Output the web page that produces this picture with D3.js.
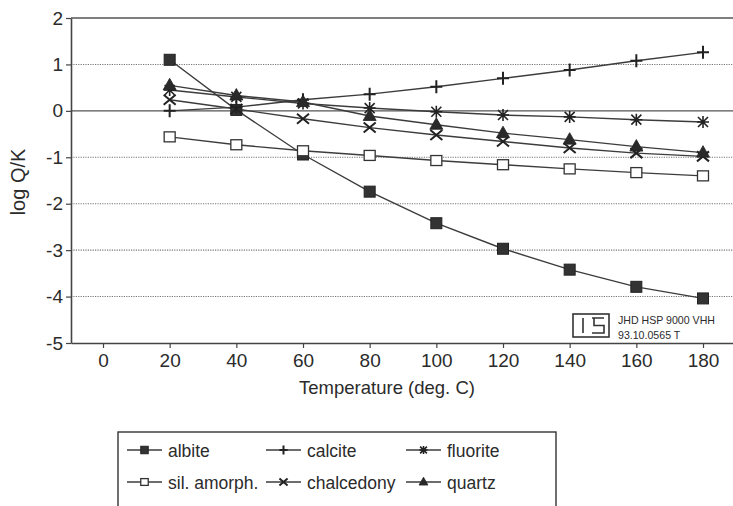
<!DOCTYPE html>
<html>
<head>
<meta charset="utf-8">
<script src="https://cdn.jsdelivr.net/npm/d3@7/dist/d3.min.js"></script>
<style>
  html, body { margin: 0; padding: 0; background: #fff; }
  svg { display: block; font-family: "Liberation Sans", Arial, sans-serif; }
</style>
</head>
<body>
<svg id="chart" width="733" height="506"></svg>
<script>
// Saturation indices (log Q/K) against temperature
const temperatures = [20, 40, 60, 80, 100, 120, 140, 160, 180];
const albite      = [1.10, 0.02, -0.94, -1.74, -2.42, -2.97, -3.42, -3.79, -4.04];
const calcite     = [0.00, 0.08, 0.24, 0.36, 0.52, 0.70, 0.88, 1.08, 1.26];
const fluorite    = [0.45, 0.30, 0.16, 0.06, -0.02, -0.09, -0.13, -0.19, -0.24];
const silAmorph   = [-0.56, -0.73, -0.86, -0.96, -1.07, -1.16, -1.25, -1.33, -1.40];
const chalcedony  = [0.24, 0.04, -0.17, -0.36, -0.52, -0.66, -0.80, -0.91, -0.98];
const quartz      = [0.55, 0.33, 0.19, -0.11, -0.30, -0.48, -0.62, -0.77, -0.90];

const seriesNames = ["albite", "calcite", "fluorite", "sil. amorph.", "chalcedony", "quartz"];
const seriesValues = [albite, calcite, fluorite, silAmorph, chalcedony, quartz];
const seriesMarkers = ["filledSquare", "plus", "asterisk", "openSquare", "cross", "triangle"];

const yTicks = [-5, -4, -3, -2, -1, 0, 1, 2];
const xTicks = [0, 20, 40, 60, 80, 100, 120, 140, 160, 180];
const yGrid = [-4, -3, -2, -1, 1];

const xTitle = "Temperature (deg. C)";
const yTitle = "log Q/K";
const stampLines = ["JHD HSP 9000 VHH", "93.10.0565 T"];

const ink = "#2b2b2b";
const lineInk = "#3c3c3c";

const svg = d3.select("#chart");

const x = d3.scaleLinear().domain([-9.6, 189]).range([71, 733]);
const y = d3.scaleLinear().domain([-5, 2]).range([343, 18]);

// dotted gridlines
svg.append("g").selectAll("line").data(yGrid).join("line")
  .attr("x1", x(-9.6)).attr("x2", x(189))
  .attr("y1", d => y(d)).attr("y2", d => y(d))
  .attr("stroke", "#777").attr("stroke-width", 1.1)
  .attr("stroke-dasharray", "1.2,1.2");

// solid zero line and top frame line
svg.append("line")
  .attr("x1", x(-9.6)).attr("x2", x(189))
  .attr("y1", y(0)).attr("y2", y(0))
  .attr("stroke", "#555").attr("stroke-width", 1.3);
svg.append("line")
  .attr("x1", x(-9.6)).attr("x2", x(189))
  .attr("y1", y(2)).attr("y2", y(2))
  .attr("stroke", "#555").attr("stroke-width", 1.6);

// axes
const yAxis = svg.append("g").attr("transform", `translate(${x(-9.6)},0)`)
  .call(d3.axisLeft(y).tickValues(yTicks).tickFormat(d3.format("d")).tickSize(5).tickPadding(3).tickSizeOuter(0));
const xAxis = svg.append("g").attr("transform", `translate(0,${y(-5)})`)
  .call(d3.axisBottom(x).tickValues(xTicks).tickFormat(d3.format("d")).tickSize(5).tickPadding(6).tickSizeOuter(0));
[yAxis, xAxis].forEach(a => {
  a.select(".domain").attr("stroke", "#444").attr("stroke-width", 1.6);
  a.selectAll(".tick line").attr("stroke", "#444").attr("stroke-width", 1.2);
  a.selectAll(".tick text").attr("fill", ink).attr("font-size", 19)
    .attr("font-family", "Liberation Sans, Arial, sans-serif");
});
yAxis.selectAll(".tick text").text(d => d < 0 ? "-" + Math.abs(d) : d);

// axis titles
svg.append("text").attr("x", 387).attr("y", 394).attr("text-anchor", "middle")
  .attr("font-size", 18.5).attr("fill", ink).text(xTitle);
svg.append("text").attr("transform", "translate(25,182) rotate(-90)")
  .attr("text-anchor", "middle").attr("font-size", 20).attr("fill", ink).text(yTitle);

// marker drawing
function drawMarker(g, type, cx, cy, scale = 1) {
  const s = scale;
  if (type === "filledSquare") {
    g.append("rect").attr("x", cx - 5.5 * s).attr("y", cy - 5.5 * s)
      .attr("width", 11 * s).attr("height", 11 * s)
      .attr("fill", "#333").attr("stroke", "#222").attr("stroke-width", 1);
  } else if (type === "openSquare") {
    g.append("rect").attr("x", cx - 5.5 * s).attr("y", cy - 5 * s)
      .attr("width", 11 * s).attr("height", 10 * s)
      .attr("fill", "#fff").attr("stroke", "#333").attr("stroke-width", 1.3);
  } else if (type === "plus") {
    g.append("path")
      .attr("d", `M${cx - 6 * s},${cy}H${cx + 6 * s}M${cx},${cy - 6.5 * s}V${cy + 6.5 * s}`)
      .attr("stroke", "#222").attr("stroke-width", 2).attr("fill", "none");
  } else if (type === "cross") {
    g.append("path")
      .attr("d", `M${cx - 6 * s},${cy - 5 * s}L${cx + 6 * s},${cy + 5 * s}M${cx - 6 * s},${cy + 5 * s}L${cx + 6 * s},${cy - 5 * s}`)
      .attr("stroke", "#222").attr("stroke-width", 2).attr("fill", "none");
  } else if (type === "asterisk") {
    g.append("path")
      .attr("d", `M${cx - 6 * s},${cy}H${cx + 6 * s}M${cx},${cy - 6 * s}V${cy + 6 * s}` +
        `M${cx - 5 * s},${cy - 5 * s}L${cx + 5 * s},${cy + 5 * s}M${cx - 5 * s},${cy + 5 * s}L${cx + 5 * s},${cy - 5 * s}`)
      .attr("stroke", "#222").attr("stroke-width", 1.6).attr("fill", "none");
  } else if (type === "triangle") {
    g.append("path")
      .attr("d", `M${cx},${cy - 7 * s}L${cx + 6.5 * s},${cy + 4.5 * s}L${cx - 6.5 * s},${cy + 4.5 * s}Z`)
      .attr("fill", "#2a2a2a").attr("stroke", "#222").attr("stroke-width", 0.8);
  }
}

// series lines
const line = d3.line().x((d, i) => x(temperatures[i])).y(d => y(d));
const plot = svg.append("g");
seriesValues.forEach(vals => {
  plot.append("path").datum(vals).attr("d", line)
    .attr("fill", "none").attr("stroke", lineInk).attr("stroke-width", 1.4);
});
// series markers (drawn above all lines)
seriesValues.forEach((vals, k) => {
  const g = plot.append("g");
  vals.forEach((v, i) => drawMarker(g, seriesMarkers[k], x(temperatures[i]), y(v)));
});

// instrument stamp
const stamp = svg.append("g");
stamp.append("rect").attr("x", 573).attr("y", 314).attr("width", 36).attr("height", 23)
  .attr("fill", "#fff").attr("stroke", "#333").attr("stroke-width", 1.6);
stamp.append("path")
  .attr("d", "M583,318V333M592,318H604M594,318V325.5H604V333H592")
  .attr("fill", "none").attr("stroke", "#333").attr("stroke-width", 1.6);
stamp.selectAll("text").data(stampLines).join("text")
  .attr("x", 618).attr("y", (d, i) => 324 + i * 15)
  .attr("font-size", 10.6).attr("fill", ink).text(d => d);

// legend
const legend = svg.append("g");
legend.append("rect").attr("x", 118).attr("y", 432).attr("width", 438).attr("height", 100)
  .attr("fill", "#fff").attr("stroke", "#333").attr("stroke-width", 1.4);
const colX = [127, 266, 406];
const rowY = [450, 482];
seriesNames.forEach((name, k) => {
  const cx = colX[k % 3], cy = rowY[Math.floor(k / 3)];
  legend.append("line").attr("x1", cx).attr("x2", cx + 35).attr("y1", cy).attr("y2", cy)
    .attr("stroke", lineInk).attr("stroke-width", 1.4);
  drawMarker(legend, seriesMarkers[k], cx + 17.5, cy, 0.68);
  legend.append("text").attr("x", cx + 41).attr("y", cy + 6.5)
    .attr("font-size", 17.5).attr("fill", ink).text(name);
});
</script>
</body>
</html>
